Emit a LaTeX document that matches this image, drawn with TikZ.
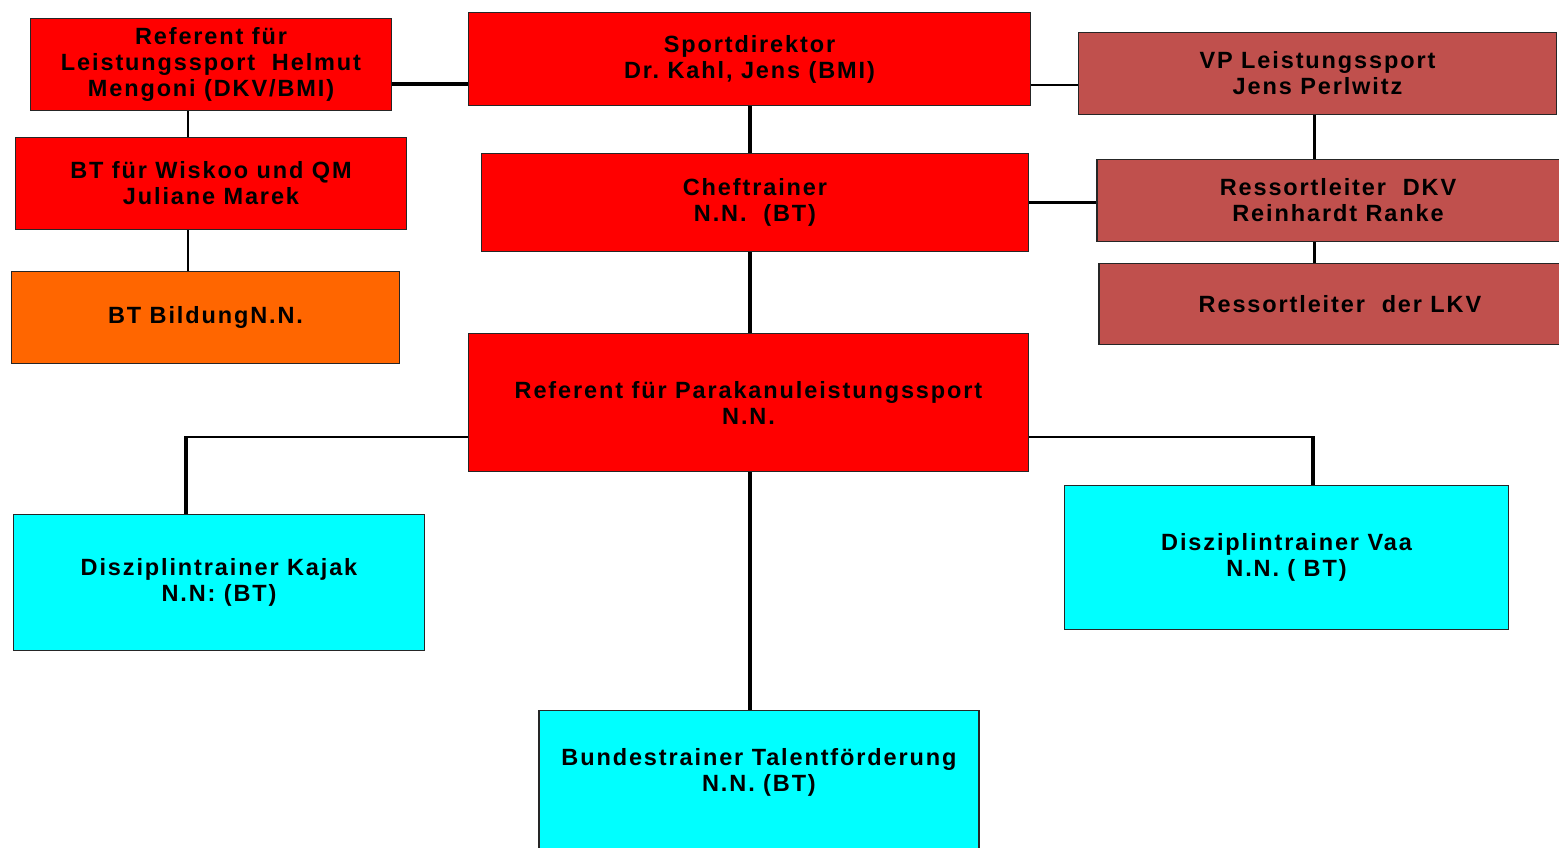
\documentclass[tikz,border=0pt]{standalone}
\usepackage{fontspec}
\newfontfamily\orgfont[LetterSpace=8]{Liberation Sans}
\usetikzlibrary{positioning}

\definecolor{chefred}{HTML}{FF0000}
\definecolor{dkvred}{HTML}{C0504D}
\definecolor{bildorange}{HTML}{FF6600}
\definecolor{traincyan}{HTML}{00FFFF}

\tikzset{
  orgbox/.style={draw=black!85, line width=1.4pt, align=center, inner sep=0pt,
    font=\orgfont\bfseries\frenchspacing\fontsize{23.5}{26}\selectfont},
  redbox/.style={orgbox, fill=chefred},
  dkvbox/.style={orgbox, fill=dkvred},
  orangebox/.style={orgbox, fill=bildorange},
  cyanbox/.style={orgbox, fill=traincyan},
  heavy/.style={line width=4pt},
  light/.style={line width=2.4pt}
}

\begin{document}
\begin{tikzpicture}[x=1pt, y=-1pt]

    % =================================================================
    % 1. RAHMEN DES BILDES
    % =================================================================
    \useasboundingbox (0,0) rectangle (1559,848);
    \clip (0,0) rectangle (1559,848);

    % =================================================================
    % 2. KÄSTEN DER LEITUNG
    % =================================================================
    % Referent links oben
    \node[redbox, minimum width=361pt, minimum height=92pt] (refls) at (211,64.5)
        {Referent für\\Leistungssport\ \ Helmut\\Mengoni (DKV/BMI)};

    % Sportdirektor in der Mitte
    \node[redbox, minimum width=562pt, minimum height=93pt] (sd) at (749.5,59)
        {Sportdirektor\\Dr. Kahl, Jens (BMI)};

    % Vizepräsident rechts
    \node[dkvbox, minimum width=478pt, minimum height=82pt] (vp) at (1317.5,73.5)
        {VP Leistungssport\\Jens Perlwitz};

    % zweite Reihe
    \node[redbox, minimum width=391pt, minimum height=92pt] (btw) at (211,183.5)
        {BT für Wiskoo und QM\\Juliane Marek};

    \node[redbox, minimum width=547pt, minimum height=98pt] (ct) at (755,202.5)
        {Cheftrainer\\N.N.\ \ (BT)};

    \node[dkvbox, minimum width=482pt, minimum height=82pt] (rdkv) at (1338,200.5)
        {Ressortleiter\ \ DKV\\Reinhardt Ranke};

    % dritte Reihe
    \node[orangebox, minimum width=388pt, minimum height=92pt] (btb) at (205.5,317.5)
        {BT BildungN.N.};

    \node[dkvbox, minimum width=482pt, minimum height=81pt] (rlkv) at (1340,304)
        {Ressortleiter\ \ der LKV};

    % =================================================================
    % 3. PARAKANU UND TRAINER
    % =================================================================
    \node[redbox, minimum width=560pt, minimum height=138pt] (rp) at (748.5,402.5)
        {Referent für Parakanuleistungssport\\N.N.};

    \node[cyanbox, minimum width=411pt, minimum height=136pt] (dk) at (219,582.5)
        {Disziplintrainer Kajak\\N.N: (BT)};

    \node[cyanbox, minimum width=444pt, minimum height=144pt] (dv) at (1286.5,557.5)
        {Disziplintrainer Vaa\\N.N. ( BT)};

    % unten angeschnitten
    \node[cyanbox, anchor=north, minimum width=440pt, inner ysep=38pt, text depth=120pt] (bt)
        at (759,710) {Bundestrainer Talentförderung\\N.N. (BT)};

    % =================================================================
    % 4. VERBINDUNGSLINIEN
    % =================================================================
    \draw[heavy] ([yshift=-20pt]refls.east) -- ([yshift=-20pt]refls.east -| sd.west);
    \draw[light] ([yshift=-26pt]sd.east) -- ([yshift=-26pt]sd.east -| vp.west);

    \draw[light] ([xshift=-23pt]refls.south) -- ([xshift=-23pt]refls.south |- btw.north);
    \draw[light] ([xshift=-23pt]btw.south) -- ([xshift=-23pt]btw.south |- btb.north);

    \draw[heavy] (sd.south) -- (sd.south |- ct.north);
    \draw[heavy] (sd.south |- ct.south) -- (sd.south |- rp.north);
    \draw[heavy] (sd.south |- rp.south) -- (sd.south |- bt.north);

    \draw[light] (ct.east) -- (ct.east -| rdkv.west);
    \draw[light] ([xshift=-3pt]vp.south) -- ([xshift=-3pt]vp.south |- rdkv.north);
    \draw[light] ([xshift=-3pt]vp.south |- rdkv.south) -- ([xshift=-3pt]vp.south |- rlkv.north);

    % Abzweig nach links und rechts
    \coordinate (kjoint) at (186,437);
    \coordinate (vjoint) at (1313,437);
    \draw[light] (rp.west |- kjoint) -- ([xshift=-2pt]kjoint);
    \draw[heavy] (kjoint) -- (kjoint |- dk.north);
    \draw[light] (rp.east |- vjoint) -- ([xshift=2pt]vjoint);
    \draw[heavy] (vjoint) -- (vjoint |- dv.north);

\end{tikzpicture}
\end{document}
